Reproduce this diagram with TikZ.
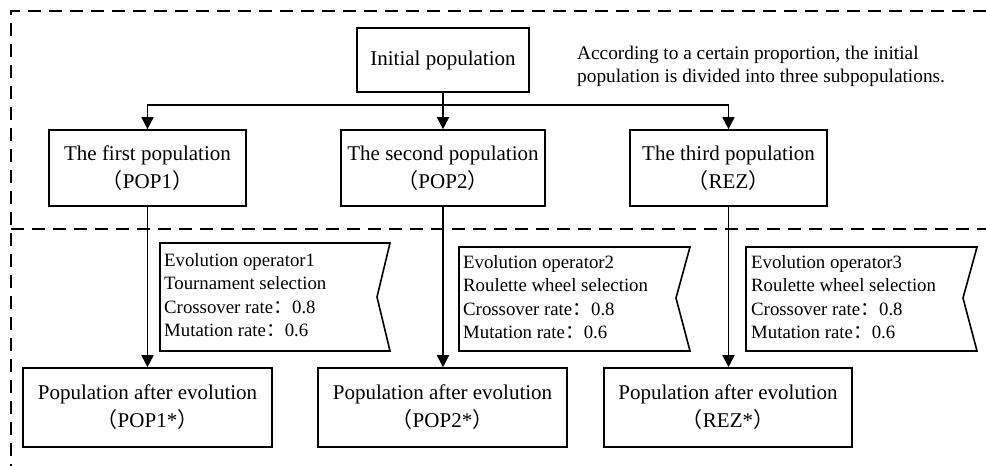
\documentclass[tikz,border=0pt]{standalone}
\usepackage{fontspec}
\setmainfont{Liberation Serif}
\newfontfamily\cjk{Noto Sans CJK SC}
\usetikzlibrary{arrows.meta}
\begin{document}
\begin{tikzpicture}[x=1pt,y=-1pt,
  box/.style={draw,line width=1.6pt,inner sep=0pt,align=center,font=\fontsize{21}{28}\selectfont},
  arr/.style={line width=1.6pt,-{Triangle[length=12pt,width=12pt]}},
  dsh/.style={line width=1.6pt,dash pattern=on 13pt off 8pt},
  flag/.style={line width=1.6pt},
  flagtxt/.style={anchor=north west,inner sep=0pt,align=left,font=\fontsize{18.8}{23.5}\selectfont}]
\useasboundingbox (0,0) rectangle (986,466);
% dashed frame
\draw[dsh] (986,11) -- (11,11) -- (11,466);
\draw[dsh] (11,229) -- (986,229);
% boxes
\node[box,minimum width=172pt,minimum height=64pt] (init) at (443,60) {Initial population};
\node[anchor=north west,inner sep=0pt,align=left,font=\fontsize{19.3}{23}\selectfont] (note) at (577,46) {According to a certain proportion, the initial\\population is divided into three subpopulations.};
\node[box,minimum width=197pt,minimum height=76pt] (p1) at (147.5,168) {The first population\\{\cjk （}POP1{\cjk ）}};
\node[box,minimum width=204pt,minimum height=76pt] (p2) at (443,168) {The second population\\{\cjk （}POP2{\cjk ）}};
\node[box,minimum width=197pt,minimum height=76pt] (p3) at (728.5,168) {The third population\\{\cjk （}REZ{\cjk ）}};
\node[box,minimum width=249pt,minimum height=79pt] (e1) at (147.5,407.5) {Population after evolution\\{\cjk （}POP1*{\cjk ）}};
\node[box,minimum width=249pt,minimum height=79pt] (e2) at (442.5,407.5) {Population after evolution\\{\cjk （}POP2*{\cjk ）}};
\node[box,minimum width=248pt,minimum height=79pt] (e3) at (728,407.5) {Population after evolution\\{\cjk （}REZ*{\cjk ）}};
% connectors
\draw[arr] (init.south) -- (p2.north);
\draw[arr] (init.south) -- ++(0,12) -| (p1.north);
\draw[arr] (init.south) -- ++(0,12) -| (p3.north);
\draw[arr] (p1.south) -- (p1.south |- e1.north);
\draw[arr] (p2.south) -- (p2.south |- e2.north);
\draw[arr] (p3.south) -- (p3.south |- e3.north);
% flags
\draw[flag] (160,243) -- (390,243) -- (377,297) -- (390,351) -- (160,351) -- cycle;
\draw[flag] (459,247) -- (690,247) -- (676,298) -- (690,351) -- (459,351) -- cycle;
\draw[flag] (746,247) -- (977,247) -- (963,298) -- (977,351) -- (746,351) -- cycle;
\node[flagtxt] (f1) at (164,253) {Evolution operator1\\Tournament selection\\Crossover rate{\cjk ：}0.8\\Mutation rate{\cjk ：}0.6};
\node[flagtxt] (f2) at (463,255) {Evolution operator2\\Roulette wheel selection\\Crossover rate{\cjk ：}0.8\\Mutation rate{\cjk ：}0.6};
\node[flagtxt] (f3) at (751,255) {Evolution operator3\\Roulette wheel selection\\Crossover rate{\cjk ：}0.8\\Mutation rate{\cjk ：}0.6};
\end{tikzpicture}
\end{document}
